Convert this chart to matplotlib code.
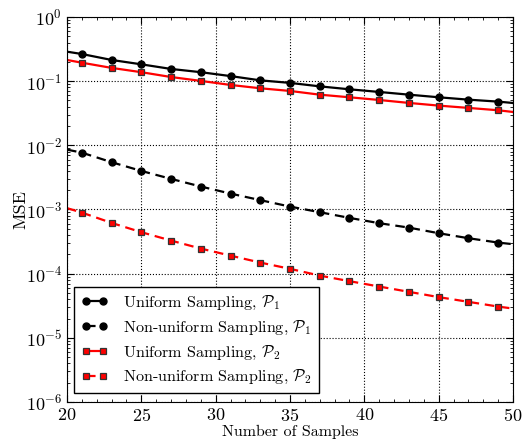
import matplotlib
matplotlib.use('Agg')
import matplotlib.pyplot as plt
from matplotlib.ticker import MultipleLocator, LogLocator, NullFormatter

plt.rcParams['font.family'] = 'serif'
plt.rcParams['font.serif'] = ['cmr10']
plt.rcParams['mathtext.fontset'] = 'cm'
plt.rcParams['axes.formatter.use_mathtext'] = True
plt.rcParams['axes.unicode_minus'] = False

# line samples (ends at 20 and 50, markers on the odd sample counts)
samples = [20, 21, 23, 25, 27, 29, 31, 33, 35, 37, 39, 41, 43, 45, 47, 49, 50]

uniform_p1 = [0.288, 0.265, 0.214, 0.183, 0.155, 0.138, 0.120, 0.103, 0.094,
              0.083, 0.0747, 0.0679, 0.0616, 0.0561, 0.0515, 0.0480, 0.0457]
nonuniform_p1 = [0.00857, 0.00769, 0.00546, 0.00399, 0.00300, 0.00228, 0.00177,
                 0.00140, 0.00111, 0.000908, 0.000740, 0.000612, 0.000522,
                 0.000427, 0.000357, 0.000305, 0.000288]
uniform_p2 = [0.214, 0.194, 0.161, 0.138, 0.116, 0.101, 0.0873, 0.0775, 0.0704,
              0.0616, 0.0561, 0.0509, 0.0458, 0.0416, 0.0383, 0.0352, 0.0331]
nonuniform_p2 = [0.00105, 0.000895, 0.000618, 0.000443, 0.000328, 0.000246,
                 0.000191, 0.000149, 0.000119, 0.0000933, 0.0000764, 0.0000630,
                 0.0000521, 0.0000431, 0.0000364, 0.0000307, 0.0000286]

labels = [r'Uniform Sampling, $\mathcal{P}_1$',
          r'Non-uniform Sampling, $\mathcal{P}_1$',
          r'Uniform Sampling, $\mathcal{P}_2$',
          r'Non-uniform Sampling, $\mathcal{P}_2$']

fig = plt.figure(figsize=(5.22, 4.45), dpi=100)
ax = fig.add_axes([67 / 522, 1 - 402 / 445, (513 - 67) / 522, (402 - 17) / 445])

marks = list(range(1, len(samples) - 1))
dash = (0, (4.3, 2.6))
ax.plot(samples, uniform_p1, color='black', ls='-', lw=1.6, marker='o', ms=5,
        markevery=marks, label=labels[0])
ax.plot(samples, nonuniform_p1, color='black', ls=dash, lw=1.6, marker='o', ms=5,
        markevery=marks, label=labels[1])
ax.plot(samples, uniform_p2, color='red', ls='-', lw=1.6, marker='s', ms=4.6,
        mfc='red', mec='#333333', mew=0.9, markevery=marks, label=labels[2])
ax.plot(samples, nonuniform_p2, color='red', ls=dash, lw=1.6, marker='s', ms=4.6,
        mfc='red', mec='#333333', mew=0.9, markevery=marks, label=labels[3])

ax.set_yscale('log')
ax.set_xlim(20, 50)
ax.set_ylim(1e-6, 1e0)
ax.xaxis.set_major_locator(MultipleLocator(5))
ax.xaxis.set_minor_locator(MultipleLocator(1))
ax.yaxis.set_major_locator(LogLocator(base=10, numticks=10))
ax.yaxis.set_minor_locator(LogLocator(base=10, subs=range(2, 10), numticks=20))
ax.yaxis.set_minor_formatter(NullFormatter())

ax.tick_params(which='both', direction='in', top=True, right=True, labelsize=13)
ax.tick_params(which='major', length=5)
ax.tick_params(which='minor', length=2.5)
ax.grid(True, which='major', color='black', ls=':', lw=0.8)

ax.set_xlabel('Number of Samples', fontsize=11.5, labelpad=1)
ax.set_ylabel('MSE', fontsize=13, labelpad=-2)

leg = ax.legend(loc='lower left', bbox_to_anchor=(0.0157, 0.023), borderaxespad=0,
                fontsize=11.6, numpoints=2, fancybox=False, framealpha=1,
                edgecolor='black', handlelength=1.7, handletextpad=0.95,
                borderpad=0.42, labelspacing=0.42)
leg.get_frame().set_linewidth(1.0)

fig.savefig('out.png', dpi=100)
